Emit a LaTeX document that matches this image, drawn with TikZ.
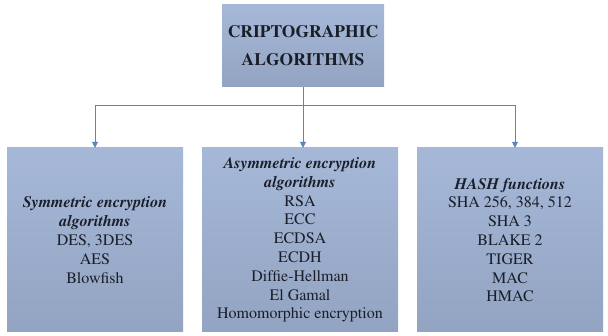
\documentclass[tikz,border=0pt]{standalone}
\usepackage[T1]{fontenc}
\usepackage{mathptmx}
\usetikzlibrary{arrows.meta,calc}
\definecolor{boxtop}{HTML}{A6B8D8}
\definecolor{boxbot}{HTML}{93A4C2}
\definecolor{linkblue}{HTML}{5A86BE}
\definecolor{ink}{HTML}{1A1E28}
\tikzset{
  catbox/.style={rectangle, draw=none, top color=boxtop, bottom color=boxbot,
    text=ink, align=center, inner sep=0pt},
  headbox/.style={catbox, font=\fontsize{17.5}{28}\selectfont\bfseries},
  listbox/.style={catbox, font=\fontsize{16}{18.8}\selectfont},
  link/.style={draw=linkblue, line width=0.9pt},
  linkarrow/.style={link, -{Triangle[length=6pt,width=6pt]}}
}
\begin{document}
\begin{tikzpicture}[x=1pt,y=-1pt]
  \useasboundingbox (0,0) rectangle (608,336);
  \fill[white] (0,0) rectangle (608,336);

  \node[headbox, minimum width=162pt, minimum height=82pt] (root) at (303,46)
    {CRIPTOGRAPHIC\\ALGORITHMS};

  \node[listbox, minimum width=176pt, minimum height=184pt] (sym) at (95,240)
    {\textbf{\textit{Symmetric encryption}}\\\textbf{\textit{algorithms}}\\DES, 3DES\\AES\\Blowfish};
  \node[listbox, minimum width=196pt, minimum height=184pt] (asym) at (300,240)
    {\textbf{\textit{Asymmetric encryption}}\\\textbf{\textit{algorithms}}\\RSA\\ECC\\ECDSA\\ECDH\\Diffie-Hellman\\El Gamal\\Homomorphic encryption};
  \node[listbox, minimum width=186pt, minimum height=184pt] (hash) at (510,240)
    {\textbf{\textit{HASH functions}}\\SHA 256, 384, 512\\SHA 3\\BLAKE 2\\TIGER\\MAC\\HMAC};

  % bus from the root down to the three groups
  \coordinate (bus) at (303,105);
  \draw[link] (root.south) -- (bus);
  \draw[linkarrow] (bus) -| (sym.north);
  \draw[linkarrow] (bus) -- (bus |- asym.north);
  \draw[linkarrow] (bus) -| ([xshift=5pt]hash.north);
\end{tikzpicture}
\end{document}
